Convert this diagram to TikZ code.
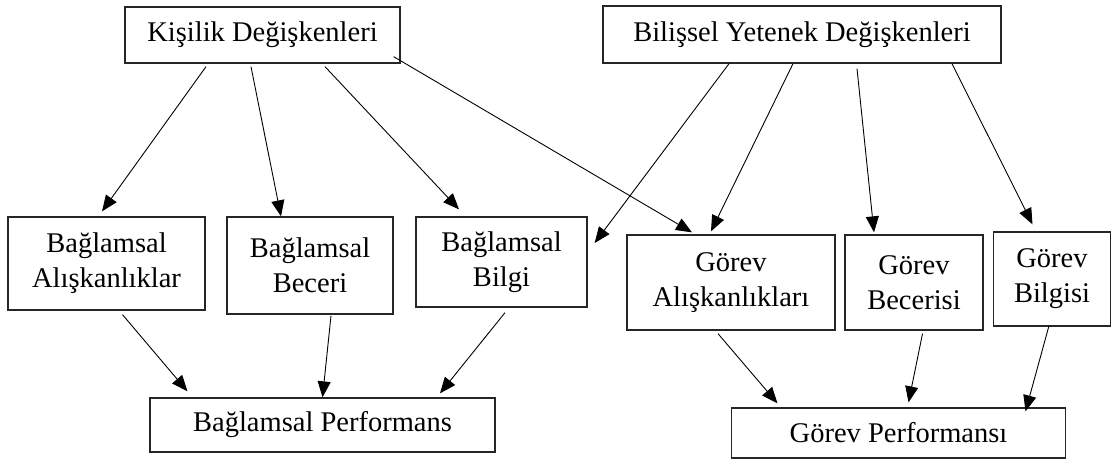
\documentclass[tikz,border=0pt]{standalone}
\usepackage{fontspec}
\setmainfont{Liberation Serif}
\usetikzlibrary{arrows.meta}
\tikzset{
  box/.style={draw=black!85, line width=1.3pt, fill=white, inner sep=0pt,
    align=center, font=\fontsize{28.5}{35}\selectfont},
  arr/.style={draw=black, line width=0.9pt, -{Triangle[length=16pt,width=13pt]}},
}
\begin{document}
\begin{tikzpicture}[x=1pt, y=-1pt]
\useasboundingbox (0,0) rectangle (1113,459);

% top row: source variables
\node[box, minimum width=275pt, minimum height=56pt] (K) at (262.5,35) {Kişilik Değişkenleri};
\node[box, minimum width=398pt, minimum height=57pt] (B) at (802,34.5) {Bilişsel Yetenek Değişkenleri};

% middle row: contextual and task components
\node[box, minimum width=197pt, minimum height=93pt] (BA) at (106.5,263.5) {Bağlamsal\\Alışkanlıklar};
\node[box, minimum width=166pt, minimum height=97pt] (BB) at (310,265.5) {Bağlamsal\\Beceri};
\node[box, minimum width=171pt, minimum height=90pt] (BBi) at (501.5,262) {Bağlamsal\\Bilgi};
\node[box, minimum width=208pt, minimum height=95pt] (GA) at (731,282.5) {Görev\\Alışkanlıkları};
\node[box, minimum width=138pt, minimum height=95pt] (GB) at (914,282.5) {Görev\\Becerisi};
\node[box, minimum width=117pt, minimum height=94pt] (GBi) at (1052,279) {Görev\\Bilgisi};

% bottom row: performance outcomes
\node[box, minimum width=345pt, minimum height=54pt] (BP) at (322.5,425) {Bağlamsal Performans};
\node[box, minimum width=334pt, minimum height=50pt] (GP) at (898.5,433) {Görev Performansı};

% personality variables
\draw[arr] ([xshift=-56.5pt,yshift=-3pt]K.south) -- ([xshift=-4.5pt,yshift=5pt]BA.north);
\draw[arr] ([xshift=-11.5pt,yshift=-3pt]K.south) -- ([xshift=-29pt]BB.north);
\draw[arr] ([xshift=62.5pt,yshift=-3pt]K.south) -- ([xshift=-42.5pt,yshift=7pt]BBi.north);
\draw[arr] ([xshift=-7pt,yshift=7pt]K.south east) -- ([xshift=-39pt,yshift=2pt]GA.north);

% cognitive ability variables
\draw[arr] ([xshift=-73pt]B.south) -- ([xshift=7pt,yshift=19pt]BBi.east);
\draw[arr] ([xshift=-9pt]B.south) -- ([xshift=-20pt,yshift=3pt]GA.north);
\draw[arr] ([xshift=55pt,yshift=-5pt]B.south) -- ([xshift=-40pt,yshift=2pt]GB.north);
\draw[arr] ([xshift=150pt]B.south) -- ([xshift=-19.5pt,yshift=7pt]GBi.north);

% contextual performance
\draw[arr] ([xshift=16pt,yshift=-4pt]BA.south) -- ([xshift=-135pt,yshift=6pt]BP.north);
\draw[arr] ([xshift=21pt,yshift=-1pt]BB.south) -- (BP.north);
\draw[arr] ([xshift=3.5pt,yshift=-5pt]BBi.south) -- ([xshift=117.5pt,yshift=4pt]BP.north);

% task performance
\draw[arr] ([xshift=-13pt,yshift=-3pt]GA.south) -- ([xshift=-121pt,yshift=4pt]GP.north);
\draw[arr] ([xshift=8.5pt,yshift=-3pt]GB.south) -- ([xshift=10pt,yshift=5pt]GP.north);
\draw[arr] ([xshift=-3pt,yshift=1pt]GBi.south) -- ([xshift=127pt,yshift=-4pt]GP.north);
\end{tikzpicture}
\end{document}
